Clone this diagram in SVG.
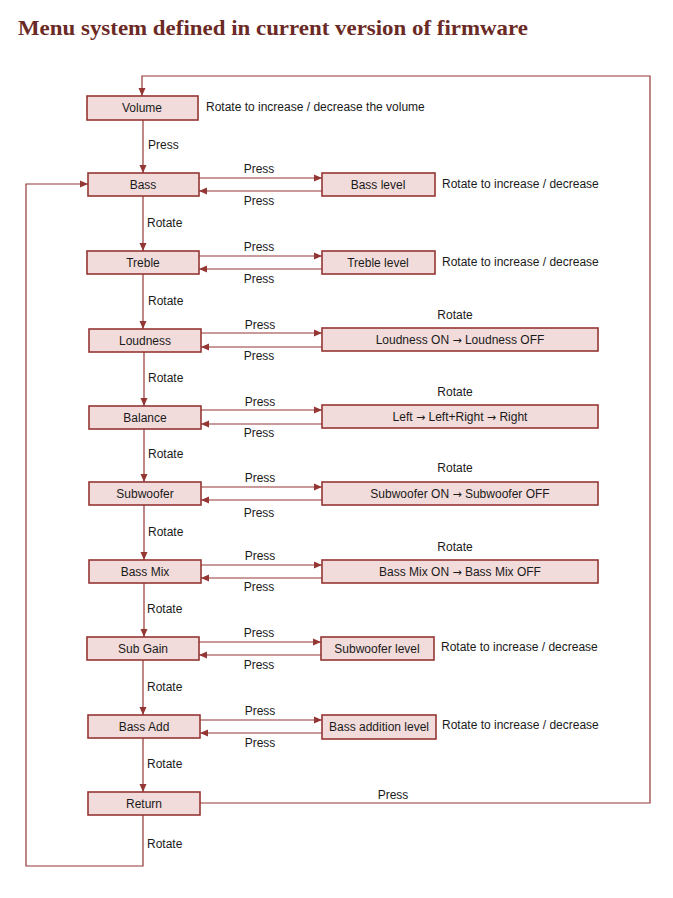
<svg xmlns="http://www.w3.org/2000/svg" width="673" height="898" viewBox="0 0 673 898">
<style>
.bg{fill:#ffffff}
.title{font-family:"Liberation Serif",serif;font-weight:bold;font-size:22px;fill:#6b2a26}
.box{fill:#f2dcdb;stroke:#943634;stroke-width:1.6}
.t{font-family:"Liberation Sans",Arial,sans-serif;font-size:12px;fill:#1a1a1a}
.c{text-anchor:middle}
.ar{font-family:"DejaVu Sans",sans-serif;font-size:11px}
.ln{fill:none;stroke:#943634;stroke-width:1.2}
</style>
<defs>
<marker id="ah" markerUnits="userSpaceOnUse" markerWidth="8" markerHeight="8" viewBox="0 0 8 8" refX="8" refY="4" orient="auto">
<path d="M0,0.5 L8,4 L0,7.5 Z" fill="#943634"/>
</marker>
</defs>
<rect class="bg" x="0" y="0" width="673" height="898"/>
<text class="title" x="18" y="35" textLength="510" lengthAdjust="spacingAndGlyphs">Menu system defined in current version of firmware</text>

<g id="connectors">
<!-- top loop: Return -> Volume -->
<path class="ln" d="M200,803 H650 V76 H142 V96" marker-end="url(#ah)"/>
<text class="t c" x="393" y="799">Press</text>
<!-- left loop: Return -> Bass -->
<path class="ln" d="M143,815 V866 H26 V184 H88" marker-end="url(#ah)"/>
<text class="t" x="147" y="848">Rotate</text>
<!-- vertical chain -->
<path class="ln" d="M143,120 V173" marker-end="url(#ah)"/>
<text class="t" x="148" y="149">Press</text>
<path class="ln" d="M143,196 V251" marker-end="url(#ah)"/>
<text class="t" x="147" y="227">Rotate</text>
<path class="ln" d="M143,274 V329" marker-end="url(#ah)"/>
<text class="t" x="148" y="305">Rotate</text>
<path class="ln" d="M144,352 V406" marker-end="url(#ah)"/>
<text class="t" x="148" y="382">Rotate</text>
<path class="ln" d="M144,429 V482" marker-end="url(#ah)"/>
<text class="t" x="148" y="458">Rotate</text>
<path class="ln" d="M144,505 V560" marker-end="url(#ah)"/>
<text class="t" x="148" y="536">Rotate</text>
<path class="ln" d="M144,583 V637" marker-end="url(#ah)"/>
<text class="t" x="147" y="613">Rotate</text>
<path class="ln" d="M143,660 V715" marker-end="url(#ah)"/>
<text class="t" x="147" y="691">Rotate</text>
<path class="ln" d="M143,738 V792" marker-end="url(#ah)"/>
<text class="t" x="147" y="768">Rotate</text>

<!-- Bass -->
<path class="ln" d="M199,178 H322" marker-end="url(#ah)"/>
<path class="ln" d="M322,191 H199" marker-end="url(#ah)"/>
<text class="t c" x="259" y="173">Press</text>
<text class="t c" x="259" y="205">Press</text>
<!-- Treble -->
<path class="ln" d="M199,256 H322" marker-end="url(#ah)"/>
<path class="ln" d="M322,269 H199" marker-end="url(#ah)"/>
<text class="t c" x="259" y="251">Press</text>
<text class="t c" x="259" y="283">Press</text>
<!-- Loudness -->
<path class="ln" d="M201,333 H322" marker-end="url(#ah)"/>
<path class="ln" d="M322,347 H201" marker-end="url(#ah)"/>
<text class="t c" x="260" y="329">Press</text>
<text class="t c" x="259" y="360">Press</text>
<!-- Balance -->
<path class="ln" d="M201,410 H322" marker-end="url(#ah)"/>
<path class="ln" d="M322,424 H201" marker-end="url(#ah)"/>
<text class="t c" x="260" y="406">Press</text>
<text class="t c" x="259" y="437">Press</text>
<!-- Subwoofer -->
<path class="ln" d="M201,487 H322" marker-end="url(#ah)"/>
<path class="ln" d="M322,500 H201" marker-end="url(#ah)"/>
<text class="t c" x="260" y="482">Press</text>
<text class="t c" x="259" y="517">Press</text>
<!-- Bass Mix -->
<path class="ln" d="M201,565 H322" marker-end="url(#ah)"/>
<path class="ln" d="M322,578 H201" marker-end="url(#ah)"/>
<text class="t c" x="260" y="560">Press</text>
<text class="t c" x="259" y="591">Press</text>
<!-- Sub Gain -->
<path class="ln" d="M199,642 H321" marker-end="url(#ah)"/>
<path class="ln" d="M321,655 H199" marker-end="url(#ah)"/>
<text class="t c" x="259" y="637">Press</text>
<text class="t c" x="259" y="669">Press</text>
<!-- Bass Add -->
<path class="ln" d="M200,720 H322" marker-end="url(#ah)"/>
<path class="ln" d="M322,733 H200" marker-end="url(#ah)"/>
<text class="t c" x="260" y="715">Press</text>
<text class="t c" x="260" y="747">Press</text>
</g>

<g id="volume"><rect class="box" x="87" y="96" width="111" height="24"/><text class="t c" x="142" y="112">Volume</text>
<text class="t" x="206" y="111">Rotate to increase / decrease the volume</text></g>
<g id="bass"><rect class="box" x="88" y="173" width="111" height="23"/><text class="t c" x="143" y="189">Bass</text></g>
<g id="bass-level"><rect class="box" x="322" y="173" width="113" height="23"/><text class="t c" x="378" y="189">Bass level</text>
<text class="t" x="442" y="188">Rotate to increase / decrease</text></g>
<g id="treble"><rect class="box" x="87" y="251" width="112" height="23"/><text class="t c" x="143" y="267">Treble</text></g>
<g id="treble-level"><rect class="box" x="322" y="251" width="113" height="23"/><text class="t c" x="378" y="267">Treble level</text>
<text class="t" x="442" y="266">Rotate to increase / decrease</text></g>
<g id="loudness"><rect class="box" x="89" y="329" width="112" height="23"/><text class="t c" x="145" y="345">Loudness</text></g>
<g id="loudness-toggle"><rect class="box" x="322" y="328" width="276" height="23"/><text class="t c" x="460" y="344">Loudness ON <tspan class="ar">→</tspan> Loudness OFF</text>
<text class="t c" x="455" y="319">Rotate</text></g>
<g id="balance"><rect class="box" x="89" y="406" width="112" height="23"/><text class="t c" x="145" y="422">Balance</text></g>
<g id="balance-toggle"><rect class="box" x="322" y="405" width="276" height="23"/><text class="t c" x="460" y="421">Left <tspan class="ar">→</tspan> Left+Right <tspan class="ar">→</tspan> Right</text>
<text class="t c" x="455" y="396">Rotate</text></g>
<g id="subwoofer"><rect class="box" x="89" y="482" width="112" height="23"/><text class="t c" x="145" y="498">Subwoofer</text></g>
<g id="subwoofer-toggle"><rect class="box" x="322" y="482" width="276" height="23"/><text class="t c" x="460" y="498">Subwoofer ON <tspan class="ar">→</tspan> Subwoofer OFF</text>
<text class="t c" x="455" y="472">Rotate</text></g>
<g id="bass-mix"><rect class="box" x="89" y="560" width="112" height="23"/><text class="t c" x="145" y="576">Bass Mix</text></g>
<g id="bass-mix-toggle"><rect class="box" x="322" y="560" width="276" height="23"/><text class="t c" x="460" y="576">Bass Mix ON <tspan class="ar">→</tspan> Bass Mix OFF</text>
<text class="t c" x="455" y="551">Rotate</text></g>
<g id="sub-gain"><rect class="box" x="87" y="637" width="112" height="23"/><text class="t c" x="143" y="653">Sub Gain</text></g>
<g id="subwoofer-level"><rect class="box" x="321" y="637" width="113" height="23"/><text class="t c" x="377" y="653">Subwoofer level</text>
<text class="t" x="441" y="651">Rotate to increase / decrease</text></g>
<g id="bass-add"><rect class="box" x="88" y="715" width="112" height="23"/><text class="t c" x="144" y="731">Bass Add</text></g>
<g id="bass-addition-level"><rect class="box" x="322" y="715" width="114" height="24"/><text class="t c" x="379" y="731">Bass addition level</text>
<text class="t" x="442" y="729">Rotate to increase / decrease</text></g>
<g id="return"><rect class="box" x="88" y="792" width="112" height="23"/><text class="t c" x="144" y="808">Return</text></g>
</svg>
